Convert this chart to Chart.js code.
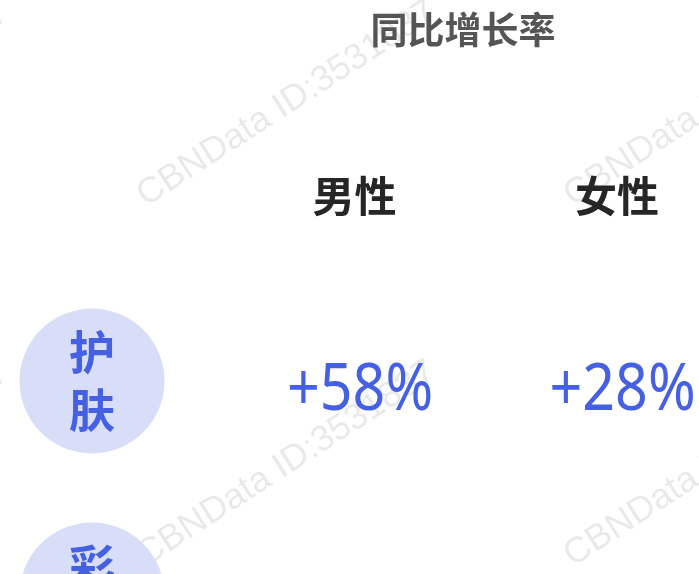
<!DOCTYPE html>
<html><head><meta charset="utf-8">
<script src="https://cdn.jsdelivr.net/npm/chart.js@4"></script>
<style>html,body{margin:0;padding:0;background:#fff;overflow:hidden}#wrap{width:699px;height:574px;position:relative;overflow:hidden}</style>
</head><body><div id="wrap"><canvas id="c" width="699" height="800"></canvas></div>
<script>
// ---- data ----
const chartTitle = '同比增长率';
const categories = ['护肤', '彩妆'];
const columnLabels = ['男性', '女性'];
const maleGrowth = [58, null];
const femaleGrowth = [28, null];
const watermarkText = 'CBNData ID:3531837';

// ---- layout helpers (pixel anchors -> scale ranges) ----
const colX0 = 92, colStep = 262.5;      // circle column, then one step per gender column
const rowY0 = 381, rowStep = 214;       // first row centre, row spacing

const blue = '#4660e3';
const circleFill = '#d9def8';

const seriesByColumn = [maleGrowth, femaleGrowth];

const infoPlugin = {
  id: 'info',
  beforeDatasetsDraw(chart) {
    const ctx = chart.ctx;
    ctx.save();
    ctx.font = '36px "Liberation Sans", Arial, sans-serif';
    ctx.fillStyle = 'rgba(0,0,0,0.085)';
    ctx.textBaseline = 'alphabetic';
    ctx.textAlign = 'left';
    const starts = [];
    for (let i = -1; i <= 1; i++) for (let j = 0; j <= 1; j++) starts.push([146 + i * 427, 207 + j * 360]);
    starts.forEach(([sx, sy]) => {
      ctx.save();
      ctx.translate(sx, sy);
      ctx.rotate(-33 * Math.PI / 180);
      ctx.fillText(watermarkText, 0, 0);
      ctx.restore();
    });
    ctx.restore();
  },
  afterDatasetsDraw(chart) {
    const { ctx, scales: { x, y } } = chart;
    ctx.save();
    ctx.textAlign = 'center';
    // title
    ctx.font = 'bold 37px "Noto Sans CJK SC"';
    ctx.fillStyle = '#555555';
    ctx.textBaseline = 'middle';
    ctx.fillText(chartTitle, x.getPixelForValue(1.413), y.getPixelForValue(-1.64));
    // column headers
    ctx.font = 'bold 42px "Noto Sans CJK SC"';
    ctx.fillStyle = '#262626';
    columnLabels.forEach((lab, i) => {
      ctx.fillText(lab, x.getPixelForValue(i + 1), y.getPixelForValue(-0.8645));
    });
    // category labels inside circles (vertical)
    ctx.font = 'bold 46px "Noto Sans CJK SC"';
    ctx.fillStyle = blue;
    categories.forEach((cat, r) => {
      const cx = x.getPixelForValue(0), cy = y.getPixelForValue(r);
      const chars = Array.from(cat);
      chars.forEach((ch, k) => {
        const off = (k - (chars.length - 1) / 2) * 58;
        ctx.fillText(ch, cx, cy + off);
      });
    });
    // values
    ctx.font = '400 66px "Noto Sans", sans-serif';
    ctx.textBaseline = 'alphabetic';
    seriesByColumn.forEach((ser, c) => {
      ser.forEach((v, r) => {
        if (v === null || v === undefined) return;
        const txt = (v > 0 ? '+' : '') + v + '%';
        const px = x.getPixelForValue(c + 1) + 5.5, py = y.getPixelForValue(r) + 29;
        ctx.save();
        ctx.translate(px, py);
        ctx.scale(0.87, 1);
        ctx.fillText(txt, 0, 0);
        ctx.restore();
      });
    });
    ctx.restore();
  }
};

const chart = new Chart(document.getElementById('c'), {
  type: 'bubble',
  data: {
    datasets: [{
      data: categories.map((c, i) => ({ x: 0, y: i, r: 72.5 })),
      backgroundColor: circleFill,
      borderWidth: 0,
      hoverBorderWidth: 0,
      clip: false
    }]
  },
  options: {
    responsive: false,
    animation: false,
    events: [],
    layout: { padding: 0 },
    plugins: { legend: { display: false }, tooltip: { enabled: false }, title: { display: false } },
    scales: {
      x: { type: 'linear', display: false, min: -0.35, max: 2.31 },
      y: { type: 'linear', display: false, reverse: true, min: -1.78, max: 2 }
    }
  },
  plugins: [infoPlugin]
});

// bubble charts reserve room for the radius; fit the ranges to the real chart area
const a = chart.chartArea;
chart.options.scales.x.min = (a.left - colX0) / colStep;
chart.options.scales.x.max = (a.right - colX0) / colStep;
chart.options.scales.y.min = (a.top - rowY0) / rowStep;
chart.options.scales.y.max = (a.bottom - rowY0) / rowStep;
chart.update();
</script></body></html>
